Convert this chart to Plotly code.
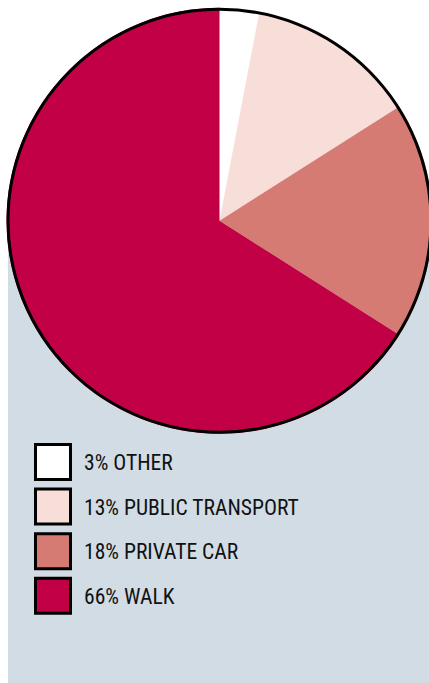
import plotly.graph_objects as go

# Travel mode shares, listed clockwise from 12 o'clock
labels = ["OTHER", "PUBLIC TRANSPORT", "PRIVATE CAR", "WALK"]
shares = [3, 13, 18, 66]
colors = ["#FFFFFF", "#F7DED8", "#D67B74", "#C20046"]

W, H = 433, 683            # canvas size in px (viewport shows the left 429 px)
cx, cy, r = 219.5, 220.75, 213   # pie centre / radius in px (y measured from top)
panel_bg = "#D2DCE5"
font_family = "Roboto Condensed, Liberation Sans Narrow, DejaVu Sans Condensed, sans-serif"


def px_x(x):
    return x / W


def px_y(y):
    return (H - y) / H


fig = go.Figure()

fig.add_trace(go.Pie(
    labels=labels,
    values=shares,
    sort=False,
    direction="clockwise",
    rotation=0,
    textinfo="none",
    hoverinfo="label+percent",
    showlegend=False,
    marker=dict(colors=colors, line=dict(width=0)),
    domain=dict(x=[px_x(cx - r), px_x(cx + r)], y=[px_y(cy + r), px_y(cy - r)]),
))

shapes = []
# light panel behind the lower half of the pie and the key
shapes.append(dict(type="rect", xref="paper", yref="paper", layer="below",
                   x0=px_x(8), x1=1.0, y0=0, y1=px_y(228),
                   fillcolor=panel_bg, line=dict(width=0)))
# black rim around the pie
ri = r - 1.5
shapes.append(dict(type="circle", xref="paper", yref="paper", layer="above",
                   x0=px_x(cx - ri), x1=px_x(cx + ri), y0=px_y(cy + ri), y1=px_y(cy - ri),
                   line=dict(color="#000000", width=3), fillcolor="rgba(0,0,0,0)"))

annotations = []
row0, pitch, box = 444.5, 44.6, 35
for i, (lab, val, col) in enumerate(zip(labels, shares, colors)):
    top = row0 + i * pitch
    shapes.append(dict(type="rect", xref="paper", yref="paper", layer="above",
                       x0=px_x(35.5), x1=px_x(35.5 + box), y0=px_y(top + box), y1=px_y(top),
                       fillcolor=col, line=dict(color="#000000", width=3)))
    annotations.append(dict(xref="paper", yref="paper", x=px_x(81.5), y=px_y(top + box / 2 + 0.5),
                            xanchor="left", yanchor="middle", showarrow=False,
                            text=f"{val}% {lab}",
                            font=dict(family=font_family, size=21.6, color="#111111")))

fig.update_layout(
    width=W, height=H, autosize=False,
    margin=dict(l=0, r=0, t=0, b=0, pad=0),
    paper_bgcolor="#FFFFFF", plot_bgcolor="#FFFFFF",
    shapes=shapes, annotations=annotations,
)

fig.write_html(
    "out.html",
    config={"displayModeBar": False, "responsive": False},
    post_script="document.documentElement.style.overflow='hidden';document.body.style.overflow='hidden';document.body.style.margin='0';",
)
